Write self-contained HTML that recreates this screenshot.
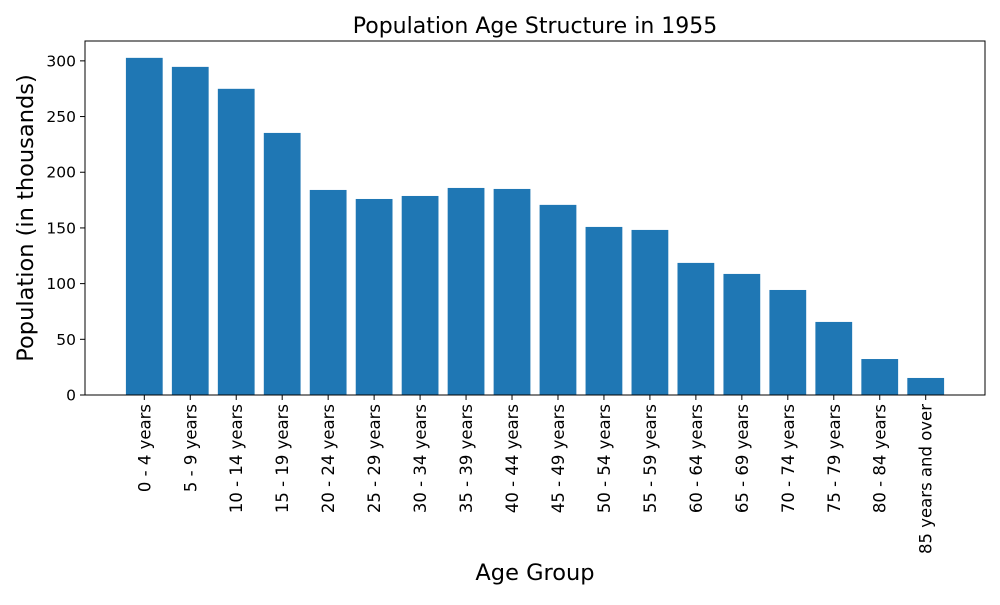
<!DOCTYPE html>
<html><head><meta charset="utf-8"><style>
body{margin:0;background:#fff;font-family:"Liberation Sans","DejaVu Sans",sans-serif}
svg text{font-family:"DejaVu Sans","Liberation Sans",sans-serif}
</style></head><body>
<svg id="chart" width="1000" height="600" viewBox="0 0 1000 600"></svg>
<script>
const categories=["0 - 4 years","5 - 9 years","10 - 14 years","15 - 19 years","20 - 24 years","25 - 29 years","30 - 34 years","35 - 39 years","40 - 44 years","45 - 49 years","50 - 54 years","55 - 59 years","60 - 64 years","65 - 69 years","70 - 74 years","75 - 79 years","80 - 84 years","85 years and over"];
const values=[302.7,294.6,274.9,235.3,184.1,176,178.7,185.9,185,170.7,150.9,148.2,118.6,108.7,94.3,65.6,32.3,15.3];
const yTicks=[0,50,100,150,200,250,300];

const NS="http://www.w3.org/2000/svg";
const svg=document.getElementById('chart');
const L=85,R=985,T=41,B=395;
const n=categories.length;
const xmin=-0.4-0.05*(n-1+0.8),xmax=n-1+0.4+0.05*(n-1+0.8);
const ymax=Math.max(...values)*1.05;
const xs=v=>L+(v-xmin)/(xmax-xmin)*(R-L);
const ys=v=>B-v/ymax*(B-T);
function mk(tag,attrs,parent){const e=document.createElementNS(NS,tag);for(const k in attrs)e.setAttribute(k,attrs[k]);(parent||svg).appendChild(e);return e;}

values.forEach((v,i)=>{
  const r=mk('rect',{x:xs(i-0.4),y:ys(v),width:xs(i+0.4)-xs(i-0.4),height:ys(0)-ys(v),fill:'#1f77b4'});
  
  
});
mk('rect',{x:L,y:T,width:R-L,height:B-T,fill:'none',stroke:'#000','stroke-width':1});

yTicks.forEach(t=>{
  const y=ys(t);
  mk('line',{x1:L-5,x2:L,y1:y,y2:y,stroke:'#000'});
  const tx=mk('text',{x:L-9,y:y+5.5,'text-anchor':'end','font-size':15.5});
  tx.textContent=t;
  
  
});
categories.forEach((c,i)=>{
  const x=xs(i);
  mk('line',{x1:x,x2:x,y1:B,y2:B+5,stroke:'#000'});
  const tx=mk('text',{x:0,y:0,'text-anchor':'end','font-size':16.5,transform:`translate(${x+6},${B+9}) rotate(-90)`});
  tx.textContent=c;
  
  
});
const title=mk('text',{x:(L+R)/2,y:33,'text-anchor':'middle','font-size':22});
title.textContent='Population Age Structure in 1955';


const xt=mk('text',{x:(L+R)/2,y:580,'text-anchor':'middle','font-size':22.5});
xt.textContent='Age Group';


const yt=mk('text',{x:0,y:0,'text-anchor':'middle','font-size':22.5,transform:`translate(33,${(T+B)/2}) rotate(-90)`});
yt.textContent='Population (in thousands)';


</script>
</body></html>
